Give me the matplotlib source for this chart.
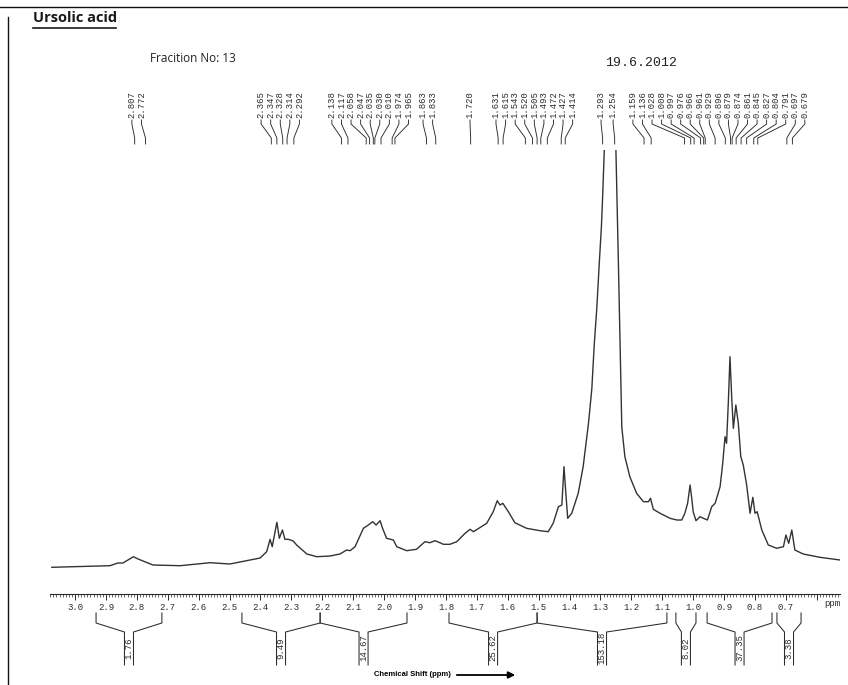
import numpy as np
import matplotlib
matplotlib.use("Agg")
import matplotlib.pyplot as plt
from matplotlib.ticker import FixedLocator, MultipleLocator, FixedFormatter
from matplotlib.lines import Line2D

# ---------------- data ----------------
SPEC_PPM = [3.075, 2.887, 2.861, 2.845, 2.811, 2.796, 2.774, 2.748, 2.660, 2.563,
            2.499, 2.445, 2.401, 2.380, 2.369, 2.362, 2.347, 2.339, 2.329, 2.321,
            2.310, 2.294, 2.283, 2.250, 2.218, 2.175, 2.143, 2.121, 2.110, 2.094,
            2.067, 2.051, 2.037, 2.026, 2.013, 2.005, 1.992, 1.970, 1.959, 1.927,
            1.895, 1.868, 1.852, 1.835, 1.808, 1.787, 1.765, 1.738, 1.722, 1.711,
            1.668, 1.647, 1.634, 1.625, 1.616, 1.598, 1.577, 1.539, 1.496, 1.469,
            1.453, 1.436, 1.425, 1.418, 1.412, 1.406, 1.393, 1.372, 1.356, 1.339,
            1.328, 1.320, 1.312, 1.304, 1.297, 1.293, 1.287, 1.280, 1.270, 1.262,
            1.254, 1.250, 1.242, 1.231, 1.221, 1.205, 1.183, 1.161, 1.145, 1.138,
            1.129, 1.107, 1.075, 1.053, 1.037, 1.027, 1.018, 1.010, 1.004, 1.000,
            0.991, 0.978, 0.967, 0.954, 0.940, 0.929, 0.913, 0.905, 0.897, 0.892,
            0.886, 0.881, 0.875, 0.870, 0.862, 0.854, 0.846, 0.838, 0.827, 0.816,
            0.807, 0.800, 0.793, 0.778, 0.757, 0.730, 0.708, 0.700, 0.691, 0.681,
            0.671, 0.644, 0.590, 0.525]
SPEC_INT = [26.7, 28.3, 31.0, 31.0, 37.3, 35.0, 32.3, 29.0, 28.3, 31.3,
            30.0, 33.3, 36.0, 42.3, 54.7, 47.3, 71.7, 55.7, 64.0, 54.7,
            54.7, 53.0, 49.0, 40.0, 37.3, 38.0, 40.0, 44.0, 43.3, 47.3,
            65.7, 69.0, 72.3, 69.0, 73.3, 65.7, 55.7, 54.0, 47.3, 43.3,
            44.7, 52.3, 51.3, 53.3, 49.7, 49.7, 52.3, 60.7, 64.7, 62.3,
            70.7, 82.3, 93.3, 89.0, 90.7, 82.3, 71.3, 65.7, 63.3, 62.3,
            70.7, 87.3, 89.0, 127.3, 100.7, 75.7, 80.7, 100.7, 127.3, 170.0,
            205.0, 250.0, 285.0, 330.0, 367.0, 397.0, 450.0, 510.0, 560.0, 590.0,
            600.0, 444.0, 331.0, 167.0, 137.3, 117.3, 100.7, 92.3, 92.3, 95.7,
            84.7, 80.7, 75.7, 74.0, 74.0, 80.7, 90.7, 109.0, 94.0, 82.3,
            73.3, 77.3, 75.7, 74.0, 87.3, 90.7, 107.3, 129.0, 157.3, 150.7,
            194.0, 237.3, 194.0, 165.7, 189.0, 170.7, 137.3, 129.0, 109.0, 80.7,
            96.7, 80.7, 82.3, 64.0, 49.0, 45.7, 47.3, 59.0, 50.7, 64.0,
            44.0, 40.0, 36.7, 34.0]

PEAK_PPM = [2.807, 2.772,
            2.365, 2.347, 2.328, 2.314, 2.292,
            2.138, 2.117, 2.058, 2.047, 2.035, 2.030, 2.010, 1.974, 1.965,
            1.863, 1.833,
            1.720,
            1.631, 1.615, 1.543, 1.520, 1.505, 1.493, 1.472, 1.427, 1.414,
            1.293, 1.254,
            1.159, 1.136, 1.028, 1.008, 0.997, 0.976, 0.966, 0.961, 0.929, 0.896,
            0.879, 0.874, 0.861, 0.845, 0.827, 0.804, 0.791, 0.697, 0.679]

INTEGRAL_START = [2.932, 2.460, 2.207, 1.790, 1.505, 1.056, 0.955, 0.729]
INTEGRAL_END = [2.719, 2.207, 1.926, 1.505, 1.085, 0.991, 0.745, 0.651]
INTEGRAL_VAL = ["1.76", "9.49", "14.67", "25.62", "153.18", "8.02", "37.35", "3.38"]

TICK_PPM = [3.0, 2.9, 2.8, 2.7, 2.6, 2.5, 2.4, 2.3, 2.2, 2.1, 2.0, 1.9,
            1.8, 1.7, 1.6, 1.5, 1.4, 1.3, 1.2, 1.1, 1.0, 0.9, 0.8, 0.7, 0.6]
TICK_LABELS = ["3.0", "2.9", "2.8", "2.7", "2.6", "2.5", "2.4", "2.3", "2.2",
               "2.1", "2.0", "1.9", "1.8", "1.7", "1.6", "1.5", "1.4", "1.3",
               "1.2", "1.1", "1.0", "0.9", "0.8", "0.7", ""]

TITLE = "Ursolic acid"
SUBTITLE = "Fracition No: 13"
DATE = "19.6.2012"
XLABEL = "Chemical Shift (ppm)"
UNIT = "ppm"

# ---------------- layout ----------------
# peak-label groups: (count, first label position in ppm, spacing in ppm)
LABEL_GROUPS = [(2, 2.816, 0.031), (5, 2.398, 0.031), (9, 2.169, 0.031),
                (2, 1.874, 0.031), (1, 1.722, 0.031), (9, 1.638, 0.031),
                (2, 1.298, 0.039), (19, 1.195, 0.0309)]

W, H = 848, 685
INK = "#2b2b2b"

fig = plt.figure(figsize=(W / 100, H / 100), dpi=100)
fig.patch.set_facecolor("white")
ax = fig.add_axes([50 / W, (H - 594) / H, 790 / W, 444 / H])
ax.set_xlim(3.081, 0.525)
ax.set_ylim(0, 444)
ax.patch.set_alpha(0)

ax.plot(SPEC_PPM, SPEC_INT, color="#333333", lw=1.0)

for s in ["top", "left", "right"]:
    ax.spines[s].set_visible(False)
ax.spines["bottom"].set_color(INK)
ax.spines["bottom"].set_linewidth(0.8)
ax.yaxis.set_visible(False)
ax.xaxis.set_major_locator(FixedLocator(TICK_PPM))
ax.xaxis.set_major_formatter(FixedFormatter(TICK_LABELS))
ax.xaxis.set_minor_locator(MultipleLocator(0.01))
ax.tick_params(axis="x", which="major", length=4, width=0.7, color=INK, pad=2.5,
               labelsize=6.5, labelcolor=INK, labelfontfamily="Liberation Mono")
ax.tick_params(axis="x", which="minor", length=2, width=0.5, color=INK)
ax.text(0.551, -10, UNIT, ha="center", va="center", fontsize=6.5,
        family="Liberation Mono", color=INK, clip_on=False)

# peak labels with leader lines
lab_x = []
for n, start, step in LABEL_GROUPS:
    lab_x += [start - k * step for k in range(n)]
for p, lx in zip(PEAK_PPM, lab_x):
    ax.plot([lx, lx, p, p], [474, 470, 456, 450], color=INK, lw=0.65, clip_on=False)
    ax.text(lx, 476, f"{p:.3f}", rotation=90, ha="center", va="bottom",
            fontsize=6.4, family="Liberation Mono", color=INK, clip_on=False)

# integral brackets
g = 0.0146
for s, e, v in zip(INTEGRAL_START, INTEGRAL_END, INTEGRAL_VAL):
    c = (s + e) / 2
    ax.plot([s, s, c + g, c + g], [-19, -29, -38, -71], color=INK, lw=0.75, clip_on=False)
    ax.plot([e, e, c - g, c - g], [-19, -29, -38, -71], color=INK, lw=0.75, clip_on=False)
    ax.text(c, -54, v, rotation=90, ha="center", va="center", fontsize=6.5,
            family="Liberation Mono", color=INK, clip_on=False)

# axis caption with arrow
fig.text(412 / W, 1 - 674 / H, XLABEL, ha="center", va="center", fontsize=5.5,
         fontweight="bold", family="Liberation Sans", color="black")
ax.annotate("", xy=(518 / W, 1 - 675 / H), xytext=(454 / W, 1 - 675 / H),
            xycoords="figure fraction", textcoords="figure fraction",
            arrowprops=dict(arrowstyle="-|>", color="black", lw=1.3, mutation_scale=10))

# header texts
fig.text(33 / W, 1 - 18 / H, TITLE, ha="left", va="center", fontsize=10.5,
         fontweight="bold", family="Open Sans", color="#1a1a1a")
fig.add_artist(Line2D([33 / W, 116 / W], [1 - 28 / H] * 2, color="#1a1a1a", lw=1.2))
fig.text(150 / W, 1 - 58 / H, SUBTITLE, ha="left", va="center", fontsize=8.5,
         family="Open Sans", color="#222222")
fig.text(641 / W, 1 - 63 / H, DATE, ha="center", va="center", fontsize=9.5,
         family="Liberation Mono", color="#222222")

# page frame lines
fig.add_artist(Line2D([0, 1], [1 - 7 / H] * 2, color="#111111", lw=1.0))
fig.add_artist(Line2D([8 / W] * 2, [1 - 17 / H, 0], color="#111111", lw=1.0))

fig.savefig("out.png", dpi=100, facecolor="white")
